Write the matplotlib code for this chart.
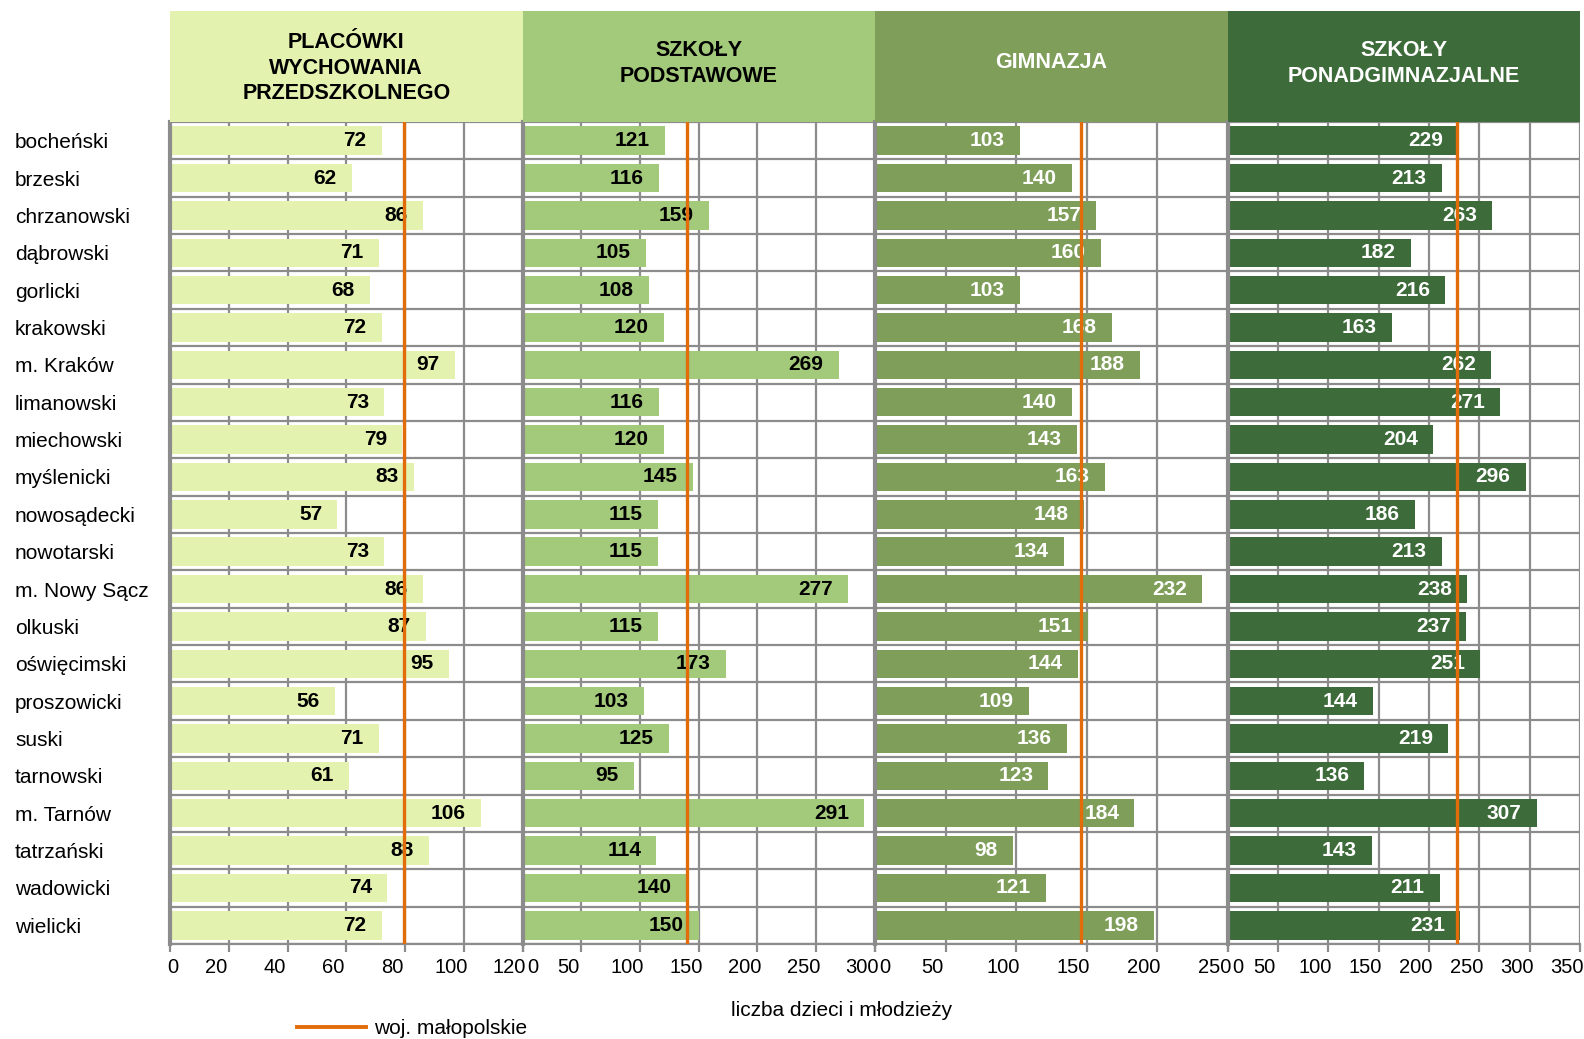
import matplotlib
matplotlib.use("Agg")
from matplotlib import pyplot as plt
from matplotlib.lines import Line2D
import matplotlib.transforms as mtransforms
import numpy as np

plt.rcParams["font.family"] = ["Liberation Sans", "DejaVu Sans"]
plt.rcParams["font.size"] = 15

powiaty = ["bocheński", "brzeski", "chrzanowski", "dąbrowski", "gorlicki",
           "krakowski", "m. Kraków", "limanowski", "miechowski", "myślenicki",
           "nowosądecki", "nowotarski", "m. Nowy Sącz", "olkuski",
           "oświęcimski", "proszowicki", "suski", "tarnowski", "m. Tarnów",
           "tatrzański", "wadowicki", "wielicki"]

przedszkola = [72, 62, 86, 71, 68, 72, 97, 73, 79, 83, 57, 73, 86, 87, 95,
               56, 71, 61, 106, 88, 74, 72]
podstawowe = [121, 116, 159, 105, 108, 120, 269, 116, 120, 145, 115, 115,
              277, 115, 173, 103, 125, 95, 291, 114, 140, 150]
gimnazja = [103, 140, 157, 160, 103, 168, 188, 140, 143, 163, 148, 134, 232,
            151, 144, 109, 136, 123, 184, 98, 121, 198]
ponadgimn = [229, 213, 263, 182, 216, 163, 262, 271, 204, 296, 186, 213, 238,
             237, 251, 144, 219, 136, 307, 143, 211, 231]

wojewodztwo = [79.5, 140, 146, 228]

titles = ["PLACÓWKI\nWYCHOWANIA\nPRZEDSZKOLNEGO", "SZKOŁY\nPODSTAWOWE",
          "GIMNAZJA", "SZKOŁY\nPONADGIMNAZJALNE"]
series = [przedszkola, podstawowe, gimnazja, ponadgimn]
xmax = [120, 300, 250, 350]
xstep = [20, 50, 50, 50]
colors = ["#E4F2B0", "#A3C97A", "#7E9E5A", "#3D6B3A"]
text_colors = ["black", "black", "white", "white"]
title_y = [0.485, 0.525, 0.535, 0.525]

W, H = 1584, 1039
fig = plt.figure(figsize=(W / 100, H / 100), dpi=100)

grid_c = "#8c8c8c"
left0 = 170
panel_w = 352.5
plot_top = 122
plot_bottom = 944
head_top = 11

y = np.arange(len(powiaty))

for i in range(4):
    x0 = left0 + i * panel_w
    ax = fig.add_axes([x0 / W, 1 - plot_bottom / H, panel_w / W,
                       (plot_bottom - plot_top) / H])
    ax.set_xlim(0, xmax[i])
    ax.set_ylim(len(powiaty) - 0.5, -0.5)

    # grid behind the bars
    ax.set_xticks(np.arange(0, xmax[i] + 1, xstep[i]))
    ax.set_yticks(np.arange(-0.5, len(powiaty), 1.0), minor=True)
    ax.grid(axis="x", which="major", color=grid_c, lw=1.6, zorder=0)
    ax.grid(axis="y", which="minor", color=grid_c, lw=1.6, zorder=0)
    ax.set_axisbelow(True)

    bars = ax.barh(y, series[i], height=0.76, color=colors[i], zorder=2)
    for b, v in zip(bars, series[i]):
        ax.annotate(str(v), (b.get_width(), b.get_y() + b.get_height() / 2),
                    xytext=(-11, 0), textcoords="offset points",
                    ha="right", va="center", fontsize=15, weight="bold",
                    color=text_colors[i], zorder=3)

    ax.axvline(wojewodztwo[i], color="#E36C0A", lw=2.4, zorder=4)

    for side in ["top", "right"]:
        ax.spines[side].set_visible(False)
    ax.spines["left"].set_color(grid_c)
    ax.spines["left"].set_linewidth(3)
    ax.spines["bottom"].set_color(grid_c)
    ax.spines["bottom"].set_linewidth(1.6)
    ax.tick_params(axis="x", which="major", length=6, width=1.6,
                   color=grid_c, labelsize=14.5, pad=4)
    ax.tick_params(axis="y", which="both", length=0)

    # Excel-like placement: first label nudged right, the rest left
    for j, lab in enumerate(ax.get_xticklabels()):
        dx = (3 if i == 0 else 10) if j == 0 else -13
        lab.set_transform(lab.get_transform() + mtransforms.ScaledTranslation(
            dx / 100, 0, fig.dpi_scale_trans))

    ax.set_yticks(y)
    if i == 0:
        ax.set_yticklabels(powiaty, ha="left", fontsize=15)
        ax.tick_params(axis="y", which="major", pad=(left0 - 15) * 0.72)
    else:
        ax.set_yticklabels([])

    # header band
    hax = fig.add_axes([x0 / W, 1 - plot_top / H, panel_w / W,
                        (plot_top - head_top) / H])
    hax.set_facecolor(colors[i])
    hax.set_xticks([])
    hax.set_yticks([])
    for s in hax.spines.values():
        s.set_visible(False)
    hax.text(0.5, title_y[i], titles[i], ha="center", va="center",
             fontsize=15.5, weight="bold", color=text_colors[i],
             linespacing=1.3, transform=hax.transAxes)

fig.text(842 / W, 1 - 1011 / H, "liczba dzieci i młodzieży",
         ha="center", va="center", fontsize=15)

handle = Line2D([], [], color="#E36C0A", lw=2.8)
fig.legend([handle], ["woj. małopolskie"], loc="center left",
           bbox_to_anchor=(278 / W, 1 - 1029 / H), frameon=False,
           handlelength=3.3, handletextpad=0.4, fontsize=15)

fig.savefig("out.png", dpi=100)
